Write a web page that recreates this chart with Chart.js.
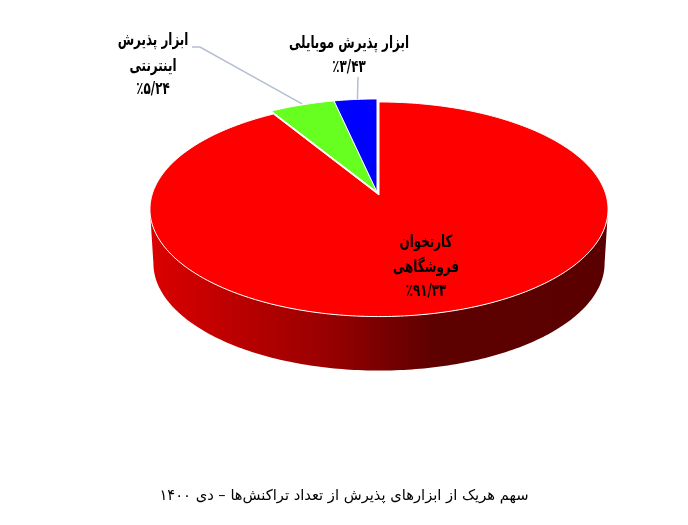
<!DOCTYPE html>
<html lang="fa">
<head>
<meta charset="utf-8">
<style>html,body{margin:0;padding:0;background:#fff}canvas{display:block}</style>
<script src="https://cdn.jsdelivr.net/npm/chart.js@4"></script>
</head>
<body>
<canvas id="c" width="688" height="525"></canvas>
<script>
const categories = ['کارتخوان فروشگاهی', 'ابزار پذیرش اینترنتی', 'ابزار پذیرش موبایلی'];
const shares = [91.33, 5.24, 3.43];
const sliceColors = ['#ff0000', '#66ff1f', '#0000ff'];
const labelRed = ['کارتخوان', 'فروشگاهی', '٪۹۱/۳۳'];
const labelGreen = ['ابزار پذیرش', 'اینترنتی', '٪۵/۲۴'];
const labelBlue = ['ابزار پذیرش موبایلی', '٪۳/۴۳'];
const chartTitle = 'سهم هریک از ابزارهای پذیرش از تعداد تراکنش‌ها – دی ۱۴۰۰';

const FONT = '"DejaVu Sans"';
const P = {cx: 379, cy: 195, a: 227, b: 105.4, k: 0.133, depth: 54};
const project = (ang, r = 1) => {
  const u = Math.cos(ang) * r, v = Math.sin(ang) * r, d = 1 - P.k * v;
  return [P.cx + P.a * u / d, P.cy + P.b * v / d];
};
const OFFSETS = [[0, 0], [-2, -3], [-2, -3]];

const pie3d = {
  id: 'pie3d',
  beforeDatasetDraw(chart, args) {
    const ctx = chart.ctx, arcs = chart.getDatasetMeta(args.index).data;
    // side wall, between the two silhouette points of the rim
    const grad = ctx.createLinearGradient(150, 0, 607, 0);
    grad.addColorStop(0, '#dc0000');
    grad.addColorStop(0.39, '#980000');
    grad.addColorStop(0.62, '#5e0000');
    grad.addColorStop(1, '#5a0000');
    ctx.save();
    ctx.beginPath();
    const n = 180, t0 = Math.asin(P.k), span = Math.PI - 2 * t0;
    for (let i = 0; i <= n; i++) {
      const p = project(t0 + span * i / n);
      i ? ctx.lineTo(p[0], p[1]) : ctx.moveTo(p[0], p[1]);
    }
    for (let i = n; i >= 0; i--) {
      const p = project(t0 + span * i / n);
      ctx.lineTo(P.cx + (p[0] - P.cx) * 0.985, p[1] + P.depth);
    }
    ctx.closePath();
    ctx.fillStyle = grad;
    ctx.fill();
    // top faces, from the angles computed by the library
    arcs.forEach((el, i) => {
      const {startAngle, endAngle} = el.getProps(['startAngle', 'endAngle'], true);
      const o = OFFSETS[i];
      ctx.beginPath();
      ctx.moveTo(P.cx + o[0], P.cy + o[1]);
      const steps = Math.max(8, Math.ceil((endAngle - startAngle) * 60));
      for (let s = 0; s <= steps; s++) {
        const p = project(startAngle + (endAngle - startAngle) * s / steps);
        ctx.lineTo(p[0] + o[0], p[1] + o[1]);
      }
      ctx.closePath();
      ctx.fillStyle = el.options.backgroundColor;
      ctx.fill();
      ctx.lineWidth = 1;
      ctx.strokeStyle = '#ffffff';
      ctx.stroke();
    });
    ctx.restore();
    return false;
  },
  afterDatasetsDraw(chart) {
    const ctx = chart.ctx, arcs = chart.getDatasetMeta(0).data;
    const mid = el => (el.startAngle + el.endAngle) / 2;
    ctx.save();
    ctx.strokeStyle = '#b4bfd2';
    ctx.lineWidth = 1.5;
    const g = project(mid(arcs[1])), b = project(mid(arcs[2]));
    ctx.beginPath();
    ctx.moveTo(192, 47); ctx.lineTo(200, 47); ctx.lineTo(g[0] - 2, g[1] - 4);
    ctx.moveTo(358, 77); ctx.lineTo(b[0], b[1] - 3);
    ctx.stroke();
    ctx.fillStyle = '#000';
    ctx.textAlign = 'center';
    ctx.textBaseline = 'middle';
    ctx.direction = 'rtl';
    ctx.font = 'bold 17px ' + FONT;
    const SX = 0.7;
    const put = (lines, x, ys) => lines.forEach((t, i) => {
      ctx.save();
      ctx.translate(x, ys[i]);
      ctx.scale(SX, 1);
      ctx.fillText(t, 0, 0);
      ctx.restore();
    });
    put(labelBlue, 349, [44, 68]);
    put(labelGreen, 153, [41, 67, 90]);
    put(labelRed, 426, [243, 268, 292]);
    ctx.restore();
  }
};

new Chart(document.getElementById('c'), {
  type: 'pie',
  data: {
    labels: categories,
    datasets: [{data: shares, backgroundColor: sliceColors, borderColor: '#ffffff', borderWidth: 1}]
  },
  options: {
    responsive: false,
    animation: false,
    devicePixelRatio: 1,
    layout: {padding: {bottom: 20, left: 0, right: 0, top: 0}},
    plugins: {
      legend: {display: false},
      tooltip: {enabled: false},
      title: {
        display: true,
        position: 'bottom',
        text: chartTitle,
        color: '#000',
        font: {family: FONT, size: 14.7, weight: 'normal'},
        padding: {top: 0, bottom: 0}
      }
    }
  },
  plugins: [pie3d]
});
</script>
</body>
</html>
